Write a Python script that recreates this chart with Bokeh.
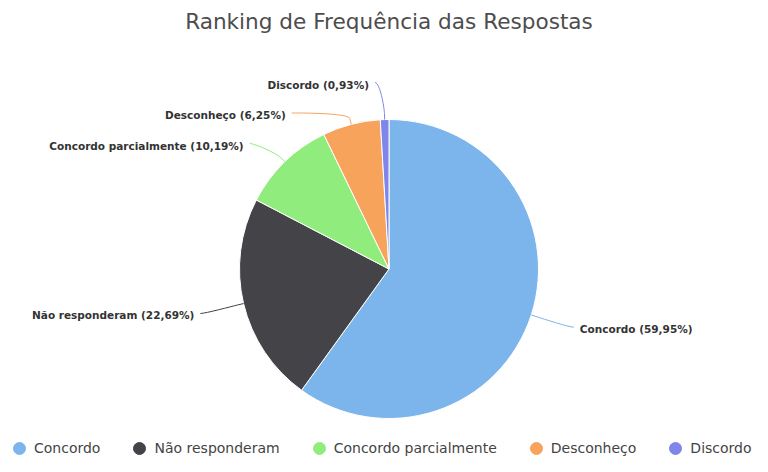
import math
from bokeh.plotting import figure
from bokeh.models import Range1d, ColumnDataSource, Legend, LegendItem
from bokeh.embed import file_html
from bokeh.resources import INLINE
from bokeh.core.properties import value

# ---- data ----
categories = ["Concordo", "Não responderam", "Concordo parcialmente", "Desconheço", "Discordo"]
percentages = [59.95, 22.69, 10.19, 6.25, 0.93]
colors = ["#7cb5ec", "#434348", "#90ed7d", "#f7a35c", "#8085e9"]
title_text = "Ranking de Frequência das Respostas"

# ---- figure (data units == pixels, y up) ----
W, H = 752, 456
p = figure(width=W, height=H, x_range=Range1d(0, 752), y_range=Range1d(16, 472),
           output_backend="svg", toolbar_location=None, min_border=0,
           x_axis_type=None, y_axis_type=None)
p.outline_line_color = None
p.background_fill_color = "white"
p.border_fill_color = "white"

cx, cy, r = 388.5, 203.5, 149.5

total = sum(percentages)
starts, ends, mids = [], [], []
acc = 0.0
for v in percentages:
    f0 = acc / total
    acc += v
    f1 = acc / total
    starts.append(math.pi / 2 - 2 * math.pi * f0)
    ends.append(math.pi / 2 - 2 * math.pi * f1)
    mids.append(math.pi / 2 - 2 * math.pi * (f0 + f1) / 2)

src = ColumnDataSource(dict(start=starts, end=ends, color=colors, name=categories))
p.wedge(x=cx, y=cy, radius=r, start_angle="start", end_angle="end", direction="clock",
        fill_color="color", line_color="white", line_width=1, source=src)

# ---- data label layout (Highcharts-like) ----
D = 30
R = r + D
ly = [cy + R * math.sin(a) for a in mids]
left_idx = [i for i, a in enumerate(mids) if math.cos(a) < 0]
right_idx = [i for i, a in enumerate(mids) if math.cos(a) >= 0]


def distribute(idx, spacing=30.5, lo=cy - R - 10, hi=cy + R + 10):
    order = sorted(idx, key=lambda i: -ly[i])
    ys = [ly[i] for i in order]
    for _ in range(400):
        for k in range(len(ys) - 1):
            g = ys[k] - ys[k + 1]
            if g < spacing:
                d = (spacing - g) / 2
                ys[k] += d
                ys[k + 1] -= d
        ys = [min(max(y, lo), hi) for y in ys]
    for i, y in zip(order, ys):
        ly[i] = y


distribute(left_idx)
distribute(right_idx)

pad = 14
gap = 6
lab_x, lab_y, lab_txt, lab_align = [], [], [], []
bz = dict(x0=[], y0=[], x1=[], y1=[], cx0=[], cy0=[], cx1=[], cy1=[], color=[])
sg = dict(x0=[], y0=[], x1=[], y1=[], color=[])
for i, a in enumerate(mids):
    left = math.cos(a) < 0
    sgn = -1 if left else 1
    dy = ly[i] - cy
    x = cx + sgn * (math.sqrt(max(R * R - dy * dy, 0.0)) + pad)
    sy = ly[i] - 3
    touch = (cx + r * math.cos(a), cy + r * math.sin(a))
    brk = (cx + (r + 6) * math.cos(a), cy + (r + 6) * math.sin(a))
    c2 = (2 * brk[0] - touch[0], 2 * brk[1] - touch[1])
    bz["x0"].append(x); bz["y0"].append(sy)
    bz["x1"].append(brk[0]); bz["y1"].append(brk[1])
    bz["cx0"].append(x - sgn * 5); bz["cy0"].append(sy)
    bz["cx1"].append(c2[0]); bz["cy1"].append(c2[1])
    bz["color"].append(colors[i])
    sg["x0"].append(brk[0]); sg["y0"].append(brk[1])
    sg["x1"].append(touch[0]); sg["y1"].append(touch[1])
    sg["color"].append(colors[i])
    lab_x.append(x + sgn * gap)
    lab_y.append(sy - 2)
    lab_txt.append(f"{categories[i]} ({percentages[i]:.2f}%)".replace(".", ","))
    lab_align.append("right" if left else "left")

p.bezier(source=ColumnDataSource(bz), x0="x0", y0="y0", x1="x1", y1="y1",
         cx0="cx0", cy0="cy0", cx1="cx1", cy1="cy1", line_color="color", line_width=1)
p.segment(source=ColumnDataSource(sg), x0="x0", y0="y0", x1="x1", y1="y1",
          line_color="color", line_width=1)

p.text(source=ColumnDataSource(dict(x=lab_x, y=lab_y, t=lab_txt, al=lab_align)),
       x="x", y="y", text="t", text_align="al", text_baseline="middle",
       text_font=value("DejaVu Sans"), text_font_style="bold",
       text_font_size="10.5px", text_color="#333333")

# ---- title ----
p.text(x=[cx], y=[472 - 21], text=[title_text], text_align="center", text_baseline="middle",
       text_font=value("DejaVu Sans"), text_font_size="21.6px", text_color="#4d4d4d")

# ---- legend (marker renderers hold a single non-drawn point) ----
items = []
for name, c in zip(categories, colors):
    rr = p.scatter(x=[float("nan")], y=[float("nan")], marker="circle", size=12,
                   fill_color=c, line_color=c)
    items.append(LegendItem(label=name, renderers=[rr]))
legend = Legend(items=items, orientation="horizontal", location=(4, -7),
                glyph_width=30, glyph_height=30, label_standoff=0, spacing=24,
                padding=0, margin=0, border_line_color=None, background_fill_alpha=0,
                label_text_font="DejaVu Sans", label_text_font_size="14px",
                label_text_color="#444444")
p.add_layout(legend, "center")

open("out.html", "w").write(file_html(p, INLINE))
